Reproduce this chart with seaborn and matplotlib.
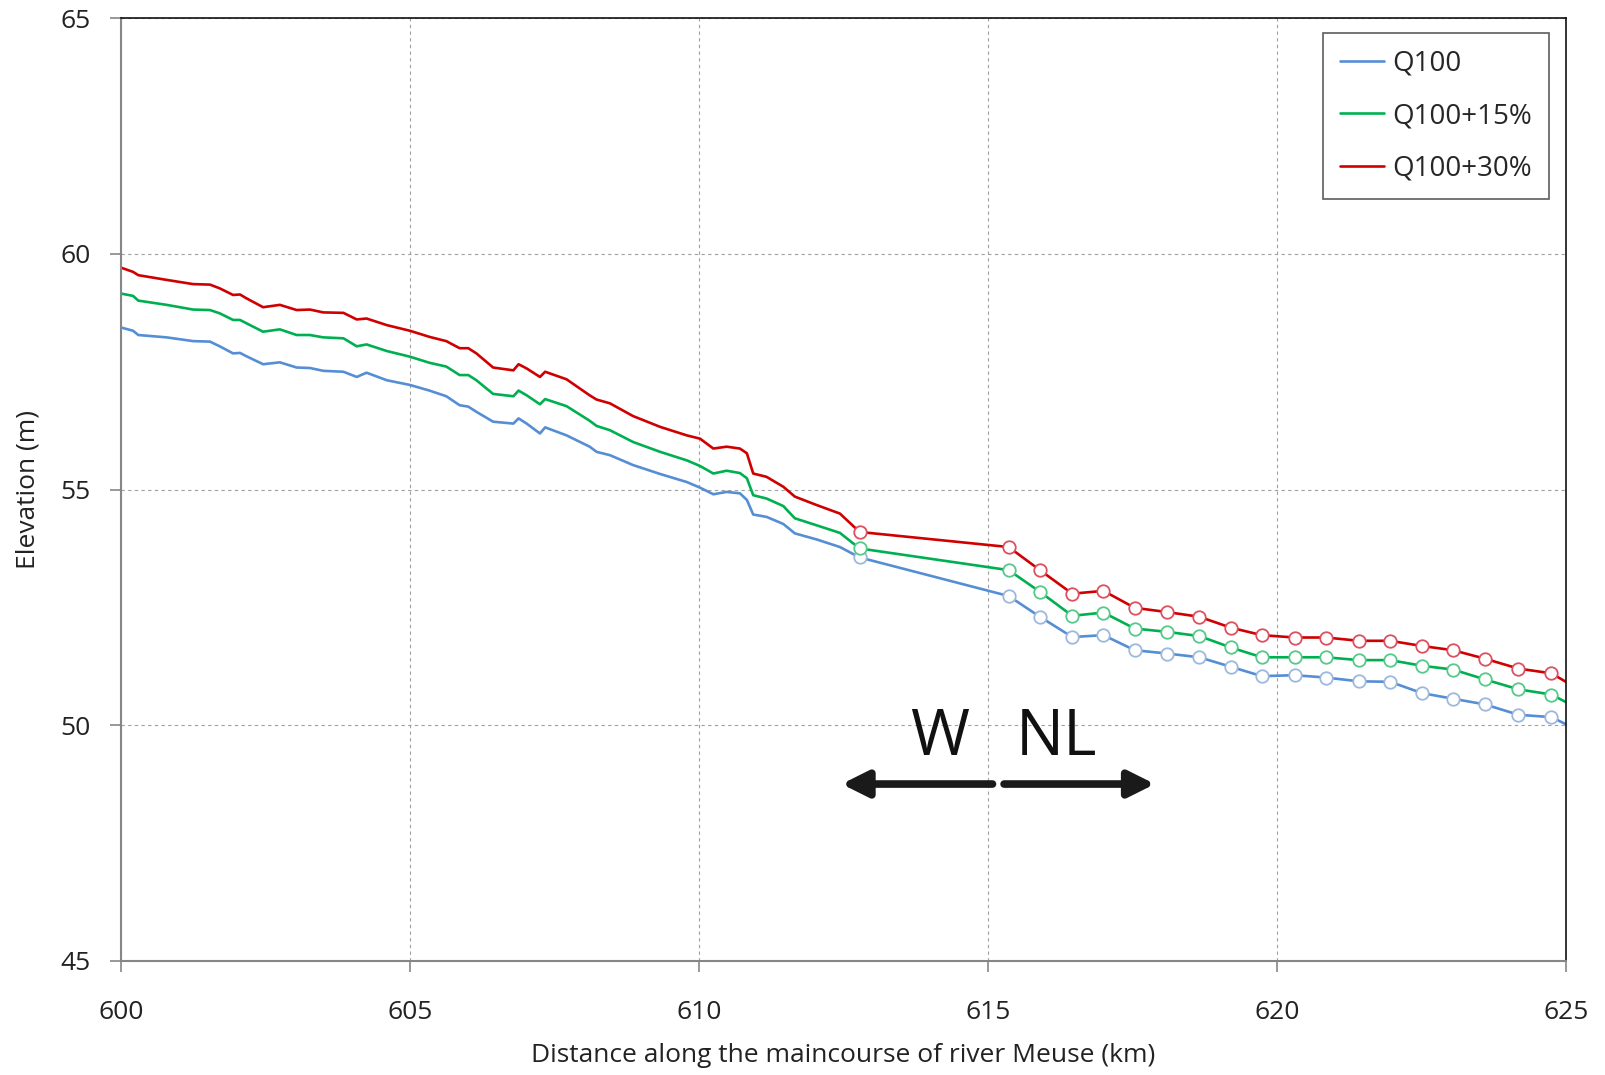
import matplotlib
matplotlib.use("Agg")
import matplotlib.pyplot as plt
import seaborn as sns
import pandas as pd

# distance (km) of the densely sampled profile, Belgian (W) reach
dist_profile = [600.00, 600.21, 600.30, 600.79, 601.25, 601.54, 601.71, 601.94, 602.06, 602.17,
                602.46, 602.75, 603.04, 603.27, 603.50, 603.85, 604.08, 604.25, 604.60, 605.00,
                605.34, 605.63, 605.86, 606.01, 606.15, 606.44, 606.79, 606.88, 607.02, 607.25,
                607.34, 607.71, 608.11, 608.23, 608.46, 608.86, 609.33, 609.79, 610.02, 610.25,
                610.48, 610.71, 610.83, 610.94, 611.17, 611.46, 611.66, 612.04, 612.44]
# distance (km) of the cross-section stations, Dutch (NL) reach
dist_stations = [612.78, 615.36, 615.90, 616.46, 617.00, 617.54, 618.10, 618.66, 619.20, 619.74,
                 620.31, 620.85, 621.42, 621.96, 622.51, 623.05, 623.60, 624.18, 624.75]
dist_end = 625.0

q100_profile = [58.44, 58.37, 58.28, 58.23, 58.15, 58.14, 58.04, 57.89, 57.90, 57.83,
                57.66, 57.70, 57.59, 57.58, 57.52, 57.50, 57.39, 57.48, 57.32, 57.22,
                57.10, 56.98, 56.79, 56.76, 56.65, 56.44, 56.40, 56.51, 56.40, 56.19,
                56.32, 56.15, 55.91, 55.80, 55.73, 55.52, 55.33, 55.16, 55.04, 54.90,
                54.95, 54.92, 54.78, 54.47, 54.42, 54.27, 54.07, 53.94, 53.78]
q100_stations = [53.56, 52.74, 52.30, 51.87, 51.91, 51.59, 51.52, 51.44, 51.24, 51.04,
                 51.06, 51.01, 50.93, 50.92, 50.68, 50.56, 50.44, 50.22, 50.17]
q100_end = 50.02

q115_profile = [59.16, 59.11, 59.01, 58.92, 58.82, 58.81, 58.74, 58.60, 58.60, 58.53,
                58.35, 58.40, 58.28, 58.28, 58.23, 58.21, 58.04, 58.08, 57.94, 57.82,
                57.69, 57.61, 57.43, 57.43, 57.32, 57.03, 56.98, 57.10, 57.00, 56.81,
                56.92, 56.77, 56.46, 56.35, 56.26, 56.01, 55.80, 55.62, 55.50, 55.34,
                55.40, 55.35, 55.24, 54.88, 54.81, 54.65, 54.39, 54.24, 54.08]
q115_stations = [53.75, 53.29, 52.83, 52.32, 52.39, 52.05, 51.98, 51.89, 51.65, 51.44,
                 51.44, 51.44, 51.38, 51.38, 51.26, 51.18, 50.97, 50.76, 50.65]
q115_end = 50.49

q130_profile = [59.71, 59.62, 59.55, 59.45, 59.36, 59.35, 59.27, 59.13, 59.14, 59.06,
                58.87, 58.92, 58.81, 58.82, 58.76, 58.75, 58.61, 58.63, 58.49, 58.37,
                58.24, 58.15, 58.00, 58.00, 57.89, 57.59, 57.53, 57.66, 57.57, 57.39,
                57.50, 57.34, 57.00, 56.91, 56.83, 56.56, 56.33, 56.15, 56.08, 55.87,
                55.91, 55.87, 55.77, 55.34, 55.27, 55.06, 54.85, 54.67, 54.49]
q130_stations = [54.10, 53.78, 53.29, 52.79, 52.85, 52.49, 52.40, 52.30, 52.07, 51.91,
                 51.86, 51.86, 51.79, 51.79, 51.68, 51.59, 51.41, 51.20, 51.10]
q130_end = 50.92

scenarios = ["Q100", "Q100+15%", "Q100+30%"]
colors = {"Q100": "#558ED5", "Q100+15%": "#00B050", "Q100+30%": "#D00000"}
marker_edges = {"Q100": "#9DB8E0", "Q100+15%": "#55C98A", "Q100+30%": "#DD5060"}

x_ticks = [600, 605, 610, 615, 620, 625]
y_ticks = [45, 50, 55, 60, 65]

series = {
    "Q100": (q100_profile, q100_stations, q100_end),
    "Q100+15%": (q115_profile, q115_stations, q115_end),
    "Q100+30%": (q130_profile, q130_stations, q130_end),
}

frames = []
for name in scenarios:
    prof, stat, end = series[name]
    frames.append(pd.DataFrame({
        "distance": dist_profile + dist_stations + [dist_end],
        "elevation": prof + stat + [end],
        "scenario": name,
    }))
df = pd.concat(frames, ignore_index=True)

sns.set_theme(style="white")
plt.rcParams["font.family"] = ["Open Sans", "DejaVu Sans"]

fig = plt.figure(figsize=(16.06, 10.75), dpi=100)
ax = fig.add_axes([0.0753, 0.1063, 0.8997, 0.8766])

sns.lineplot(data=df, x="distance", y="elevation", hue="scenario", hue_order=scenarios,
             palette=colors, estimator=None, sort=False, linewidth=1.9, ax=ax)

# open circles at the Dutch cross-section stations
for name in scenarios:
    stat = series[name][1]
    ax.plot(dist_stations, stat, linestyle="none", marker="o", markersize=9,
            markerfacecolor="white", markeredgecolor=marker_edges[name],
            markeredgewidth=1.3, zorder=3)

ax.set_xlim(600, 625)
ax.set_ylim(45, 65)
ax.set_xticks(x_ticks)
ax.set_yticks(y_ticks)
ax.tick_params(axis="both", labelsize=19, colors="#868686", labelcolor="#222222",
               length=8, width=1.2, direction="out", bottom=True, left=True)
ax.tick_params(axis="x", pad=20)
ax.tick_params(axis="y", pad=14)
ax.grid(True, linestyle=(0, (3, 3)), color="#a0a0a0", linewidth=0.8)
for side in ["top", "right"]:
    ax.spines[side].set_color("#111111")
    ax.spines[side].set_linewidth(1.2)
for side in ["left", "bottom"]:
    ax.spines[side].set_color("#868686")
    ax.spines[side].set_linewidth(1.5)

ax.set_xlabel("Distance along the maincourse of river Meuse (km)", fontsize=19,
              color="#222222", labelpad=13)
ax.set_ylabel("Elevation (m)", fontsize=19, color="#222222", labelpad=14)

# border W / NL
arrow_style = dict(arrowstyle="-|>,head_length=1.3,head_width=0.65",
                   color="#1a1a1a", lw=5.5, shrinkA=0, shrinkB=0)
ax.annotate("", xy=(612.47, 48.75), xytext=(615.08, 48.75), arrowprops=arrow_style)
ax.annotate("", xy=(617.89, 48.75), xytext=(615.28, 48.75), arrowprops=arrow_style)
ax.text(614.17, 49.36, "W", fontsize=46, ha="center", va="baseline", color="#111111")
ax.text(616.19, 49.36, "NL", fontsize=46, ha="center", va="baseline", color="#111111")

leg = ax.legend(loc="upper right", bbox_to_anchor=(0.9882, 0.9845), fontsize=20,
                frameon=True, fancybox=False, edgecolor="#333333", borderpad=0.6,
                labelspacing=0.88, handlelength=1.6, handletextpad=0.3, borderaxespad=0)
leg.get_frame().set_linewidth(1.2)
for line in leg.get_lines():
    line.set_linewidth(1.9)

fig.savefig("out.png", dpi=100)
plt.close(fig)
